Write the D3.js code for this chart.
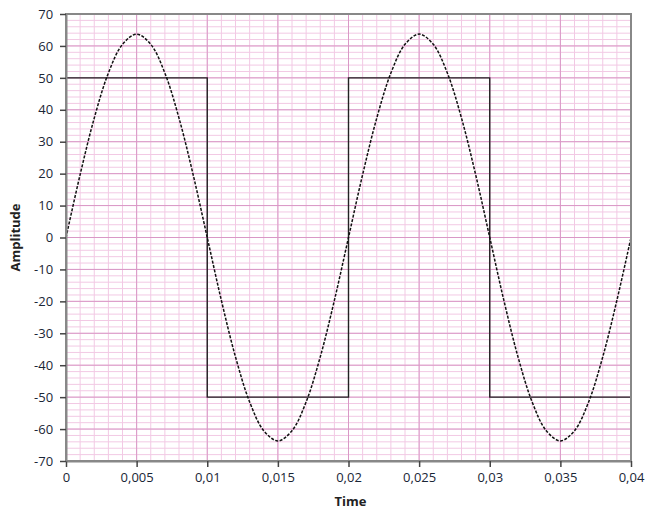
<!DOCTYPE html>
<html><head><meta charset="utf-8">
<script src="https://cdn.jsdelivr.net/npm/d3@7"></script>
<style>body{margin:0;background:#fff;} text{font-family:"Open Sans","DejaVu Sans",sans-serif;}</style>
</head><body>
<svg id="c" width="647" height="513"></svg>
<script>
// Data
const timeTicks = [0, 0.005, 0.01, 0.015, 0.02, 0.025, 0.03, 0.035, 0.04];
const tickLabels = ["0", "0,005", "0,01", "0,015", "0,02", "0,025", "0,03", "0,035", "0,04"];
const ampTicks = [-70,-60,-50,-40,-30,-20,-10,0,10,20,30,40,50,60,70];
// sine samples every 0.001 s
const sineTime = d3.range(0, 41).map(i => i * 0.001);
const sineValues = [0,19.7,37.4,51.5,60.5,63.7,60.5,51.5,37.4,19.7,
                    0,-19.7,-37.4,-51.5,-60.5,-63.7,-60.5,-51.5,-37.4,-19.7,
                    0,19.7,37.4,51.5,60.5,63.7,60.5,51.5,37.4,19.7,
                    0,-19.7,-37.4,-51.5,-60.5,-63.7,-60.5,-51.5,-37.4,-19.7,0];
const squareTime = [0, 0.01, 0.01, 0.02, 0.02, 0.03, 0.03, 0.04];
const squareValues = [50, 50, -50, -50, 50, 50, -50, -50];

const svg = d3.select("#c");
const L = 66, R = 631, T = 14, B = 461;
const x = d3.scaleLinear().domain([0, 0.04]).range([L, R]);
const y = d3.scaleLinear().domain([-70, 70]).range([B, T]);

const g = svg.append("g");
g.append("rect").attr("x", L).attr("y", T).attr("width", R-L).attr("height", B-T).attr("fill", "#fff");
// minor grid
const minorX = d3.range(0, 41).map(i => i * 0.001);
const minorY = d3.range(-70, 71, 2);
g.selectAll(".mx").data(minorX).join("line")
  .attr("x1", d => x(d)).attr("x2", d => x(d)).attr("y1", T).attr("y2", B)
  .attr("stroke", "#f2c9e4").attr("stroke-width", 1);
g.selectAll(".my").data(minorY).join("line")
  .attr("y1", d => y(d)).attr("y2", d => y(d)).attr("x1", L).attr("x2", R)
  .attr("stroke", "#f2c9e4").attr("stroke-width", 1);
// major grid
g.selectAll(".Mx").data(timeTicks).join("line")
  .attr("x1", d => x(d)).attr("x2", d => x(d)).attr("y1", T).attr("y2", B)
  .attr("stroke", "#d998c6").attr("stroke-width", 1);
g.selectAll(".My").data(ampTicks).join("line")
  .attr("y1", d => y(d)).attr("y2", d => y(d)).attr("x1", L).attr("x2", R)
  .attr("stroke", "#d998c6").attr("stroke-width", 1);

// square wave
const sq = squareTime.map((t, i) => [t, squareValues[i]]);
g.append("path").datum(sq)
  .attr("d", d3.line().x(d => x(d[0])).y(d => y(d[1])))
  .attr("fill", "none").attr("stroke", "#222").attr("stroke-width", 1.4);
// sine
const sn = sineTime.map((t, i) => [t, sineValues[i]]);
g.append("path").datum(sn)
  .attr("d", d3.line().curve(d3.curveCatmullRom).x(d => x(d[0])).y(d => y(d[1])))
  .attr("fill", "none").attr("stroke", "#111").attr("stroke-width", 1.5)
  .attr("stroke-dasharray", "3,1.5");

// frame
g.append("rect").attr("x", L).attr("y", T).attr("width", R-L).attr("height", B-T)
  .attr("fill", "none").attr("stroke", "#888").attr("stroke-width", 2);

// axes
const ax = svg.append("g").attr("transform", `translate(0,${B})`)
  .call(d3.axisBottom(x).tickValues(timeTicks).tickFormat((d,i) => tickLabels[i]).tickSize(6).tickSizeOuter(0));
const ay = svg.append("g").attr("transform", `translate(${L},0)`)
  .call(d3.axisLeft(y).tickValues(ampTicks).tickFormat(d => d).tickSize(6).tickSizeOuter(0));
[ax, ay].forEach(a => {
  a.select(".domain").attr("stroke", "#888").attr("stroke-width", 2);
  a.selectAll(".tick line").attr("stroke", "#444").attr("stroke-width", 1.5);
  a.selectAll(".tick text").attr("fill", "#1a2636").attr("font-size", 13)
   .style("font-family", '"Open Sans","DejaVu Sans",sans-serif');
});
ax.selectAll(".tick text").attr("dy", "0.95em");
ay.selectAll(".tick text").attr("dx", "-0.3em");

svg.append("text").attr("x", (L+R)/2 + 2).attr("y", 506).attr("text-anchor", "middle")
  .attr("font-size", 13).attr("font-weight", "bold").attr("fill", "#222").text("Time");
svg.append("text").attr("transform", `translate(20,${(T+B)/2}) rotate(-90)`).attr("text-anchor", "middle")
  .attr("font-size", 13).attr("font-weight", "bold").attr("fill", "#222").text("Amplitude");
</script>
</body></html>
